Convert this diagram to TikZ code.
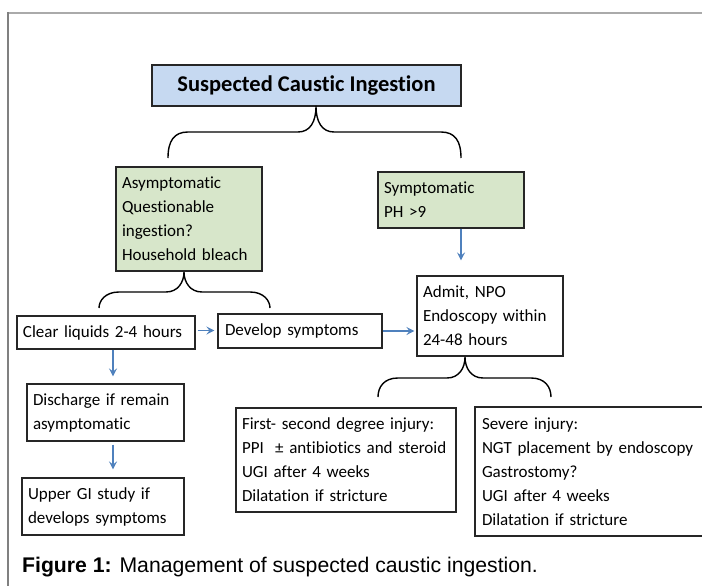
\documentclass[tikz,border=0pt]{standalone}
\usepackage{fontspec}
\setmainfont{Carlito}[Ligatures={NoCommon}]
\newfontfamily\capfont{Liberation Sans}
\usetikzlibrary{arrows.meta,positioning}
\definecolor{titleblue}{RGB}{198,217,241}
\definecolor{boxgreen}{RGB}{215,230,202}
\definecolor{arrblue}{RGB}{79,129,189}
\definecolor{frametop}{RGB}{170,170,170}
\definecolor{frameleft}{RGB}{128,128,128}
\newcommand\curlybrace[6]{%
  \draw[bracestyle] (#1,#6) .. controls (#1,{#5+9}) and ({#1+6},#5) .. ({#1+20},#5)
    -- ({#3-18},#5) .. controls ({#3-6},#5) and (#3,{#5-10}) .. (#3,#4)
    .. controls (#3,{#5-10}) and ({#3+6},#5) .. ({#3+18},#5)
    -- ({#2-20},#5) .. controls ({#2-6},#5) and (#2,{#5+9}) .. (#2,#6);}
\begin{document}
\begin{tikzpicture}[x=1pt,y=-1pt,
  box/.style={draw=black!85, line width=1.1pt, inner xsep=6pt, inner ysep=2pt,
    font=\fontsize{17}{24}\selectfont, align=left, anchor=center},
  tbox/.style={box, text width={#1-12pt}, minimum width=#1},
  bracestyle/.style={draw=black, line width=1.4pt},
  arr/.style={draw=arrblue, line width=1.6pt, -{Stealth[length=8pt,width=8pt,inset=3pt]}}]
\clip (0,0) rectangle (702,586);
\useasboundingbox (0,0) rectangle (702,586);
\fill[white] (0,0) rectangle (702,586);
% frame
\draw[frametop, line width=2pt] (7,13) -- (710,13);
\draw[frameleft, line width=2pt] (8,12) -- (8,600);
% nodes
\node[box, fill=titleblue, minimum width=309pt, minimum height=41pt, align=center,
  font=\fontsize{22.5}{26}\selectfont\bfseries] (title) at (306.5,85.5) {Suspected Caustic Ingestion};
\node[tbox=146pt, fill=boxgreen, minimum height=104pt] (asym) at (189,219)
  {Asymptomatic\\Questionable\\ingestion?\\Household bleach};
\node[tbox=146pt, fill=boxgreen, minimum height=56pt] (sym) at (451,200)
  {Symptomatic\\PH >9};
\node[tbox=146pt, fill=white, minimum height=80pt] (admit) at (490,316)
  {Admit, NPO\\Endoscopy within\\24-48 hours};
\node[tbox=178pt, fill=white, minimum height=33pt] (clear) at (106,332.5)
  {Clear liquids 2-4 hours};
\node[tbox=162pt, fill=white, minimum height=34pt, inner xsep=7pt] (develop) at (300,331)
  {Develop symptoms};
\node[tbox=157pt, fill=white, minimum height=57pt] (discharge) at (105.5,412.5)
  {Discharge if remain\\asymptomatic};
\node[tbox=162pt, fill=white, minimum height=57pt] (upper) at (103,506.5)
  {Upper GI study if\\develops symptoms};
\node[tbox=220pt, fill=white, minimum height=104pt] (first) at (346,460)
  {First- second degree injury:\\PPI\ \ ± antibiotics and steroid\\UGI after 4 weeks\\Dilatation if stricture};
\node[tbox=244pt, fill=white, minimum height=129pt, inner xsep=7pt] (severe) at (598,471.5)
  {Severe injury:\\NGT placement by endoscopy\\Gastrostomy?\\UGI after 4 weeks\\Dilatation if stricture};
% braces
\curlybrace{168}{461}{316}{106}{132}{158}
\curlybrace{99}{270}{184}{272}{292}{308}
\curlybrace{378}{551}{465}{357}{378}{397}
% arrows
\draw[arr, shorten >=15pt] ([xshift=10pt]sym.south) -- ([xshift=10pt]sym.south |- admit.north);
\draw[arr, shorten <=2pt, shorten >=3pt] ([yshift=2pt]clear.east) -- ([yshift=2pt]clear.east -| develop.west);
\draw[arr, shorten >=2pt] (develop.east) -- (develop.east -| admit.west);
\draw[arr, shorten >=7pt] ([xshift=7pt]clear.south) -- ([xshift=7pt]clear.south |- discharge.north);
\draw[arr, shorten <=3pt, shorten >=8pt] ([xshift=7.5pt]discharge.south) -- ([xshift=7.5pt]discharge.south |- upper.north);
% caption
\node[anchor=base west, inner sep=0pt, font=\capfont\fontsize{21.2}{25}\selectfont] (caption) at (22,572)
  {\textbf{Figure 1:} Management of suspected caustic ingestion.};
\end{tikzpicture}
\end{document}
